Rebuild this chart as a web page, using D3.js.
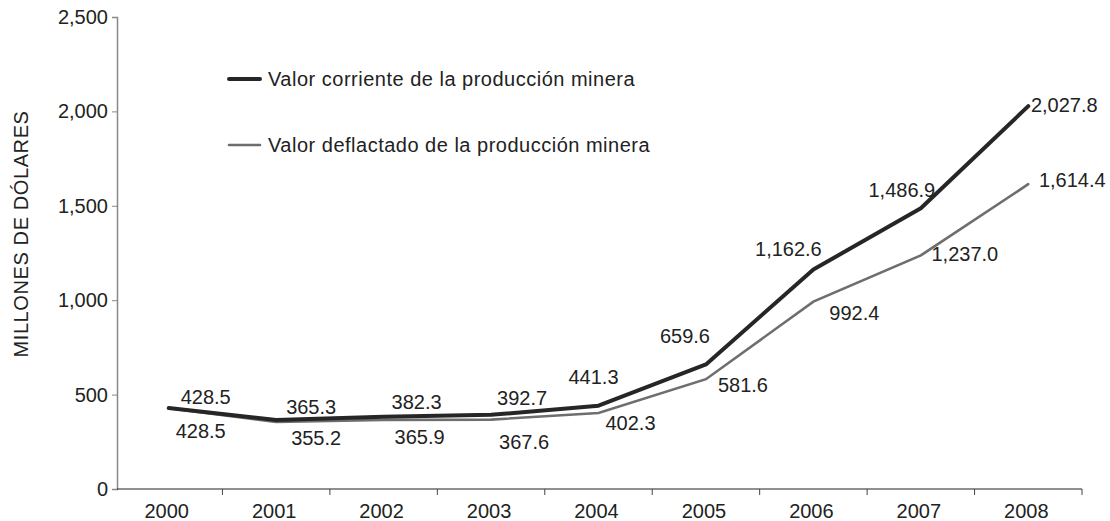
<!DOCTYPE html>
<html>
<head>
<meta charset="utf-8">
<script src="https://cdn.jsdelivr.net/npm/d3@7"></script>
<style>
  html, body { margin: 0; padding: 0; background: #fff; }
  svg { display: block; font-family: "Liberation Sans", Arial, sans-serif; }
</style>
</head>
<body>
<svg id="chart" width="1110" height="521"></svg>
<script>
// Valor de la producción minera, millones de dólares
const years = ["2000", "2001", "2002", "2003", "2004", "2005", "2006", "2007", "2008"];
const valorCorriente = [428.5, 365.3, 382.3, 392.7, 441.3, 659.6, 1162.6, 1486.9, 2027.8];
const valorDeflactado = [428.5, 355.2, 365.9, 367.6, 402.3, 581.6, 992.4, 1237.0, 1614.4];
const yTicks = [0, 500, 1000, 1500, 2000, 2500];
const seriesNames = ["Valor corriente de la producción minera", "Valor deflactado de la producción minera"];
const yTitle = "MILLONES DE DÓLARES";

// label placement relative to each point [dx, dy] (text anchored at centre)
const nudgeCorriente = [[37, -11], [35, -13], [33, -15], [31, -17], [-5, -29], [-21, -28], [-25, -21], [-19, -18], [36, -1]];
const nudgeDeflactado = [[32, 23], [40, 16], [36, 17], [33, 22], [32, 10], [37, 6], [41, 11], [44, -1], [44, -4]];

const svg = d3.select("#chart");
const plotLeft = 117, plotRight = 1082, plotTop = 17, plotBottom = 489;
const fontSize = 20;

const x = d3.scaleBand().domain(years).range([plotLeft - 2, plotRight]);
const y = d3.scaleLinear().domain([0, 2500]).range([plotBottom, plotTop]);
const cx = d => x(d) + x.bandwidth() / 2;

const fmt = d3.format(",.1f");
const fmtTick = d3.format(",");

// y axis
const yAxis = svg.append("g")
  .attr("transform", `translate(${plotLeft},0)`)
  .call(d3.axisLeft(y).tickValues(yTicks).tickFormat(fmtTick).tickSize(5).tickPadding(4));
yAxis.select(".domain").attr("stroke", "#888").attr("stroke-width", 1.5);
yAxis.selectAll(".tick line").attr("stroke", "#888");
yAxis.selectAll(".tick text").attr("font-size", fontSize).attr("fill", "#222")
  .attr("font-family", "Liberation Sans, Arial, sans-serif");

// x axis with ticks on category boundaries
const xAxisG = svg.append("g").attr("transform", `translate(0,${plotBottom})`);
xAxisG.append("line")
  .attr("x1", plotLeft).attr("x2", plotRight).attr("y1", 0).attr("y2", 0)
  .attr("stroke", "#222").attr("stroke-width", 1.2);
const bounds = years.map(d => x(d)).concat([x(years[years.length - 1]) + x.bandwidth()]).slice(1);
xAxisG.selectAll("line.tk").data(bounds).join("line")
  .attr("class", "tk")
  .attr("x1", d => d).attr("x2", d => d).attr("y1", 0).attr("y2", 6)
  .attr("stroke", "#444").attr("stroke-width", 1);
xAxisG.selectAll("text").data(years).join("text")
  .attr("x", d => cx(d) - 2).attr("y", 29)
  .attr("text-anchor", "middle").attr("font-size", fontSize).attr("fill", "#222")
  .text(d => d);

// y axis title
svg.append("text")
  .attr("transform", `translate(28,234) rotate(-90)`)
  .attr("text-anchor", "middle").attr("font-size", fontSize).attr("fill", "#222")
  .attr("letter-spacing", 0.6)
  .text(yTitle);

// lines
const line = d3.line().x((d, i) => cx(years[i])).y(d => y(d));
svg.append("path").datum(valorDeflactado)
  .attr("d", line).attr("fill", "none")
  .attr("stroke", "#6e6e6e").attr("stroke-width", 2.6).attr("stroke-linecap", "round");
svg.append("path").datum(valorCorriente)
  .attr("d", line).attr("fill", "none")
  .attr("stroke", "#262626").attr("stroke-width", 4).attr("stroke-linecap", "round")
  .attr("stroke-linejoin", "round");

// value labels
function labels(values, nudge) {
  svg.append("g").selectAll("text").data(values).join("text")
    .attr("x", (d, i) => cx(years[i]) + nudge[i][0])
    .attr("y", (d, i) => y(d) + nudge[i][1])
    .attr("dy", "0.35em")
    .attr("text-anchor", "middle").attr("font-size", fontSize).attr("fill", "#222")
    .text(d => fmt(d));
}
labels(valorCorriente, nudgeCorriente);
labels(valorDeflactado, nudgeDeflactado);

// legend
const legend = svg.append("g");
const legendStyle = [{ stroke: "#262626", w: 4, y: 79 }, { stroke: "#6e6e6e", w: 2.6, y: 145 }];
legendStyle.forEach((s, i) => {
  legend.append("line")
    .attr("x1", 229).attr("x2", 260).attr("y1", s.y).attr("y2", s.y)
    .attr("stroke", s.stroke).attr("stroke-width", s.w).attr("stroke-linecap", "round");
  legend.append("text")
    .attr("x", 268).attr("y", s.y).attr("dy", "0.35em")
    .attr("font-size", fontSize).attr("fill", "#222")
    .attr("letter-spacing", 0.5)
    .text(seriesNames[i]);
});
</script>
</body>
</html>
